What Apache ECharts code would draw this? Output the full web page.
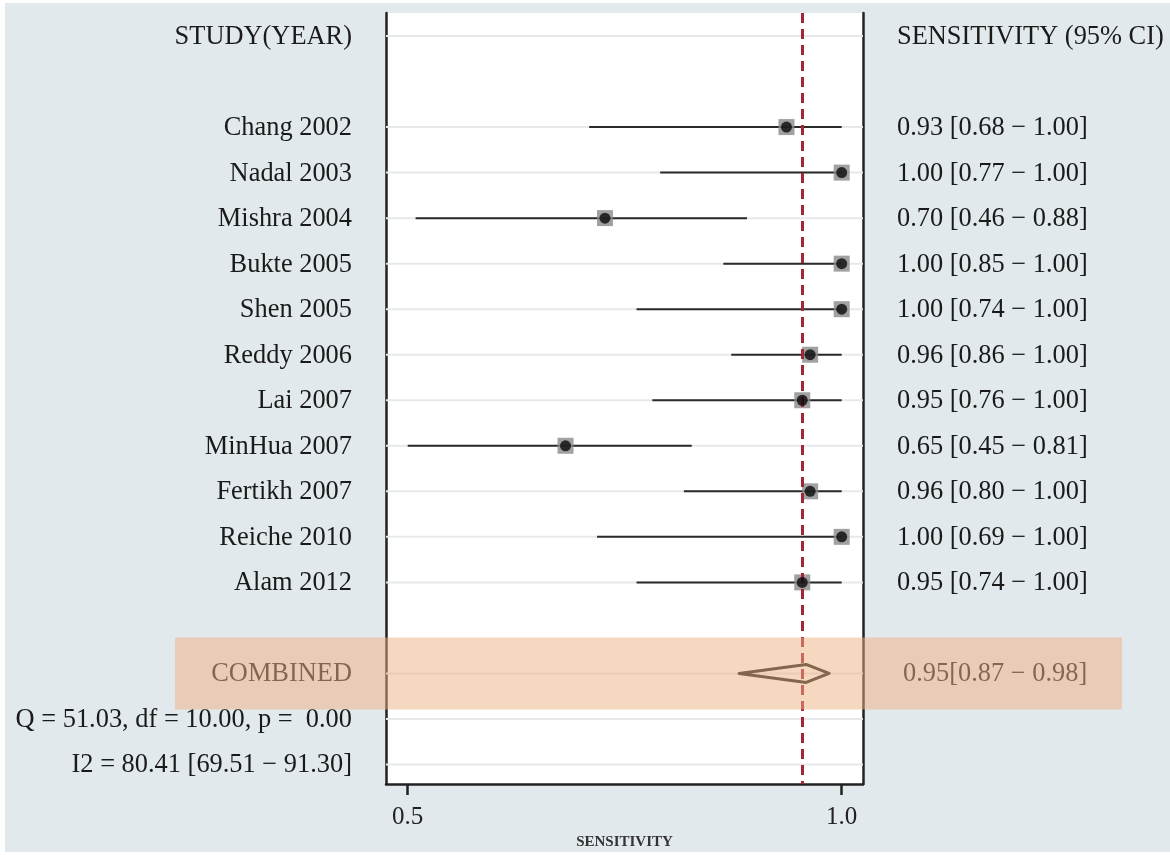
<!DOCTYPE html>
<html>
<head>
<meta charset="utf-8">
<script src="https://cdn.jsdelivr.net/npm/echarts@6/dist/echarts.min.js"></script>
<style>
html,body{margin:0;padding:0;background:#ffffff;}
#chart{width:1170px;height:855px;}
</style>
</head>
<body>
<div id="chart"></div>
<script>
// ---- data ----
const studies = ['Chang 2002','Nadal 2003','Mishra 2004','Bukte 2005','Shen 2005','Reddy 2006','Lai 2007','MinHua 2007','Fertikh 2007','Reiche 2010','Alam 2012'];
const sensEst = [0.93, 1.00, 0.70, 1.00, 1.00, 0.96, 0.95, 0.65, 0.96, 1.00, 0.95];
const sensLo  = [0.68, 0.77, 0.46, 0.85, 0.74, 0.86, 0.76, 0.45, 0.80, 0.69, 0.74];
const sensHi  = [1.00, 1.00, 0.88, 1.00, 1.00, 1.00, 1.00, 0.81, 1.00, 1.00, 1.00];
const combinedEst = 0.955;
const combinedLo = 0.870;
const combinedHi = 0.984;
const combinedLabel = '0.95[0.87 \u2212 0.98]';
const heterogeneityText = 'Q = 51.03, df = 10.00, p =  0.00';
const i2Text = 'I2 = 80.41 [69.51 \u2212 91.30]';
const headerLeft = 'STUDY(YEAR)';
const headerRight = 'SENSITIVITY (95% CI)';
const combinedName = 'COMBINED';
const xTickValues = [0.45, 1.0];
const xTickLabels = ['0.5', '1.0'];
const xAxisName = 'SENSITIVITY';

// ---- row layout (row indices) ----
const ROW_HEADER = 0;
const ROW_FIRST = 2;
const ROW_COMBINED = ROW_FIRST + studies.length + 1; // 14
const ROW_Q = ROW_COMBINED + 1;
const ROW_I2 = ROW_COMBINED + 2;
const X_MIN = 0.4225, X_MAX = 1.027;
const Y_MIN = -0.505, Y_MAX = 16.43;

const FONT = '"Liberation Serif","Times New Roman",serif';
const fmt = v => v.toFixed(2);

const gridRows = [ROW_HEADER];
studies.forEach((s,i)=>gridRows.push(ROW_FIRST+i));
gridRows.push(ROW_COMBINED, ROW_Q, ROW_I2);

const ciData = studies.map((s,i)=>[sensLo[i], sensHi[i], ROW_FIRST+i]);
const ptData = studies.map((s,i)=>[sensEst[i], ROW_FIRST+i]);

// text items: [row, text, side(0 left,1 right), kind]
const textItems = [];
textItems.push([ROW_HEADER, headerLeft, 0, 0]);
textItems.push([ROW_HEADER, headerRight, 1, 0]);
studies.forEach((s,i)=>{
  textItems.push([ROW_FIRST+i, s, 0, 0]);
  textItems.push([ROW_FIRST+i, fmt(sensEst[i])+' ['+fmt(sensLo[i])+' \u2212 '+fmt(sensHi[i])+']', 1, 0]);
});
textItems.push([ROW_COMBINED, combinedName, 0, 0]);
textItems.push([ROW_COMBINED, combinedLabel, 1, 1]);
textItems.push([ROW_Q, heterogeneityText, 0, 0]);
textItems.push([ROW_I2, i2Text, 0, 0]);

const chart = echarts.init(document.getElementById('chart'));
chart.setOption({
  backgroundColor: '#ffffff',
  animation: false,
  graphic: [{
    type: 'rect', z: -10, silent: true,
    shape: {x: 5, y: 3, width: 1165, height: 849},
    style: {fill: '#e2e9ec'}
  }],
  grid: {left: 386, right: 307, top: 13, bottom: 70, show: true, backgroundColor: '#ffffff', borderWidth: 0},
  xAxis: {
    type: 'value', min: X_MIN, max: X_MAX,
    splitLine: {show: false},
    axisLine: {show: true, onZero: false, lineStyle: {color: '#222', width: 2.5}},
    axisTick: {show: true, customValues: xTickValues, length: 11, lineStyle: {color: '#222', width: 2.5}},
    axisLabel: {show: true, customValues: xTickValues, margin: 21,
      formatter: v => { const k = xTickValues.findIndex(t => Math.abs(t - v) < 1e-6); return k >= 0 ? xTickLabels[k] : ''; },
      color: '#222', fontFamily: FONT, fontSize: 25},
    name: xAxisName, nameLocation: 'middle', nameGap: 49,
    nameTextStyle: {color: '#333', fontFamily: FONT, fontSize: 15, fontWeight: 'bold'}
  },
  yAxis: [{
    type: 'value', inverse: true, min: Y_MIN, max: Y_MAX, position: 'left',
    splitLine: {show: false}, axisTick: {show: false}, axisLabel: {show: false},
    axisLine: {show: true, onZero: false, lineStyle: {color: '#222', width: 2.5}}
  }, {
    type: 'value', inverse: true, min: Y_MIN, max: Y_MAX, position: 'right',
    splitLine: {show: false}, axisTick: {show: false}, axisLabel: {show: false},
    axisLine: {show: true, onZero: false, lineStyle: {color: '#222', width: 2.5}}
  }],
  series: [
    { // row gridlines
      type: 'custom', z: 1, silent: true,
      data: gridRows.map(r => [r]),
      renderItem: (params, api) => {
        const cs = params.coordSys;
        const y = api.coord([X_MIN, api.value(0)])[1];
        return {type: 'line', shape: {x1: cs.x, y1: y, x2: cs.x + cs.width, y2: y},
          style: {stroke: '#e6e9ea', lineWidth: 2}};
      }
    },
    { // CI lines
      type: 'custom', z: 3, silent: true,
      data: ciData,
      renderItem: (params, api) => {
        const a = api.coord([api.value(0), api.value(2)]);
        const b = api.coord([api.value(1), api.value(2)]);
        return {type: 'line', shape: {x1: a[0], y1: a[1], x2: b[0], y2: b[1]},
          style: {stroke: '#2a2a2a', lineWidth: 2}};
      }
    },
    { // weight squares
      type: 'scatter', z: 4, symbol: 'rect', symbolSize: 16,
      itemStyle: {color: '#8a8a8a'},
      data: ptData,
      markLine: {
        silent: true, symbol: ['none','none'], label: {show: false},
        lineStyle: {color: '#a3253a', type: [10, 6], width: 3},
        data: [{xAxis: combinedEst}]
      }
    },
    { // point estimates
      type: 'scatter', z: 5, symbol: 'circle', symbolSize: 11,
      itemStyle: {color: '#0a0a0a'},
      data: ptData
    },
    { // combined diamond
      type: 'custom', z: 6, silent: true,
      data: [[combinedLo, combinedEst, combinedHi, ROW_COMBINED]],
      renderItem: (params, api) => {
        const r = api.value(3);
        const l = api.coord([api.value(0), r]);
        const c = api.coord([api.value(1), r]);
        const h = api.coord([api.value(2), r]);
        return {type: 'polygon', shape: {points: [[l[0], l[1]], [c[0], c[1] - 9], [h[0], h[1]], [c[0], c[1] + 9]]},
          style: {fill: 'none', stroke: '#1a1a1a', lineWidth: 3, lineJoin: 'round'}};
      }
    },
    { // texts
      type: 'custom', z: 7, silent: true, clip: false,
      data: textItems,
      renderItem: (params, api) => {
        const cs = params.coordSys;
        const item = textItems[params.dataIndex];
        const y = api.coord([X_MIN, item[0]])[1] + 1;
        const left = item[2] === 0;
        const x = left ? cs.x - 34 : cs.x + cs.width + (item[3] === 1 ? 40 : 34);
        return {type: 'text', x: x, y: y,
          style: {text: item[1], fill: '#1a1a1a', font: '26.4px ' + FONT,
            textAlign: left ? 'right' : 'left', textVerticalAlign: 'middle'}};
      }
    },
    { // highlight band over the combined row
      type: 'custom', z: 20, silent: true, clip: false,
      data: [[ROW_COMBINED]],
      renderItem: (params, api) => {
        const y1 = api.coord([X_MIN, api.value(0) - 0.79])[1];
        const y2 = api.coord([X_MIN, api.value(0) + 0.79])[1];
        return {type: 'rect', shape: {x: 175, y: y1, width: 947, height: y2 - y1},
          style: {fill: 'rgba(237,175,129,0.5)'}};
      }
    }
  ]
});
</script>
</body>
</html>
